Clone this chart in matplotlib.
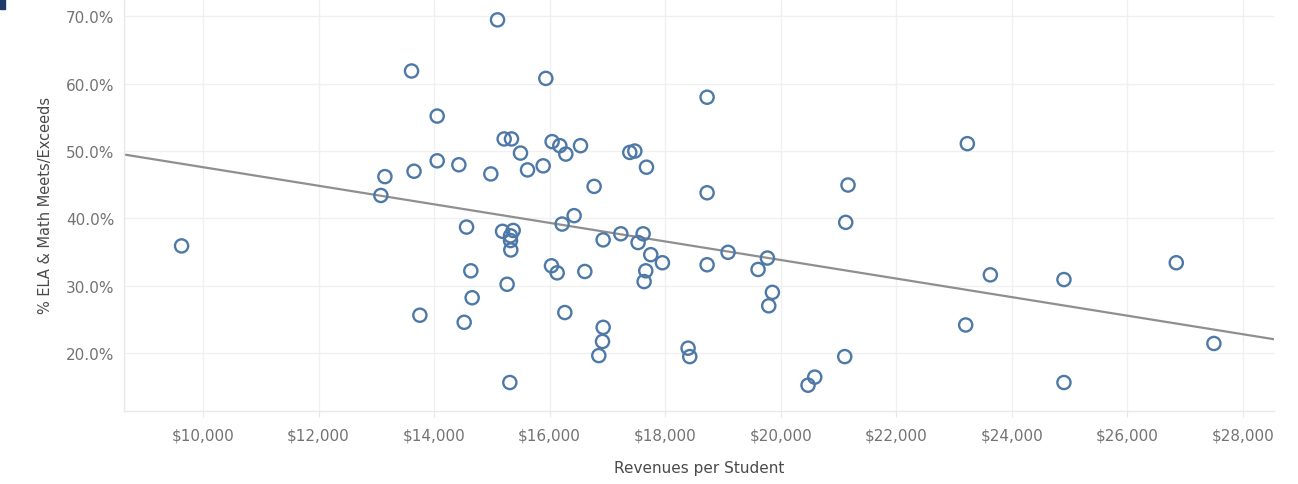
import matplotlib
matplotlib.use("Agg")
import matplotlib.pyplot as plt
import matplotlib.patches as mpatches
from matplotlib.ticker import FuncFormatter, FixedLocator
import numpy as np

# Revenues per student (USD) and share of students meeting/exceeding ELA & Math standards (%)
revenue_per_student = [
    9630, 13149, 13079, 13610, 15098, 15934, 14054, 15213, 15340, 15496,
    16043, 16176, 16280, 16534, 17387, 17474, 17676, 18725, 18725, 16770,
    15888, 16424, 16216, 16926, 17232, 17618, 17531, 17750, 17952, 18725,
    19088, 16609, 16130, 16032, 17664, 17635, 16263, 16926, 16915, 16851,
    18396, 18425, 14562, 15185, 15369, 15323, 15323, 15328, 14636, 15264,
    14659, 13754, 14521, 15311, 13653, 14054, 14429, 14982, 15617, 19769,
    19607, 19855, 19792, 21164, 21124, 21107, 20588, 20472, 23229, 23627,
    23200, 24901, 24901, 26845, 27496,
]
pct_meets_exceeds = [
    35.9, 46.2, 43.4, 61.9, 69.5, 60.8, 55.2, 51.8, 51.8, 49.7,
    51.4, 50.8, 49.55, 50.8, 49.8, 50.0, 47.6, 58.0, 43.8, 44.75,
    47.8, 40.4, 39.15, 36.8, 37.7, 37.7, 36.4, 34.6, 33.4, 33.1,
    34.95, 32.1, 31.9, 32.95, 32.2, 30.6, 26.0, 23.8, 21.7, 19.6,
    20.7, 19.45, 38.7, 38.07, 38.2, 37.4, 36.7, 35.3, 32.2, 30.2,
    28.2, 25.6, 24.55, 15.6, 47.0, 48.55, 47.96, 46.6, 47.2, 34.1,
    32.4, 29.0, 27.0, 44.95, 39.4, 19.45, 16.4, 15.2, 51.1, 31.6,
    24.15, 30.9, 15.6, 33.4, 21.4,
]

x_ticks = [10000, 12000, 14000, 16000, 18000, 20000, 22000, 24000, 26000, 28000]
y_ticks = [20, 30, 40, 50, 60, 70]

x_label = "Revenues per Student"
y_label = "% ELA & Math Meets/Exceeds"

POINT_COLOR = "#4e79a7"
TREND_COLOR = "#8f8f8f"
GRID_COLOR = "#f0f0f0"
TICK_COLOR = "#737373"

fig = plt.figure(figsize=(12.98, 4.85), dpi=100)
ax = fig.add_axes([0.0955, 0.151, 0.886, 0.849])

x = np.array(revenue_per_student, dtype=float)
y = np.array(pct_meets_exceeds, dtype=float)

xlim = (8633, 28536)
ylim = (11.4, 72.6)
ax.set_xlim(*xlim)
ax.set_ylim(*ylim)

# Linear trend line across the full axis width
slope, intercept = np.polyfit(x, y, 1)
tx = np.array(xlim)
ax.plot(tx, slope * tx + intercept, color=TREND_COLOR, lw=1.6, zorder=2)

ax.scatter(x, y, s=90, facecolors="none", edgecolors=POINT_COLOR,
           linewidths=1.7, zorder=3)

ax.xaxis.set_major_locator(FixedLocator(x_ticks))
ax.yaxis.set_major_locator(FixedLocator(y_ticks))
ax.xaxis.set_major_formatter(FuncFormatter(lambda v, p: f"${v:,.0f}"))
ax.yaxis.set_major_formatter(FuncFormatter(lambda v, p: f"{v:.1f}%"))

ax.grid(True, color=GRID_COLOR, lw=1.0, zorder=0)
ax.set_axisbelow(True)
for side in ("top", "right"):
    ax.spines[side].set_visible(False)
for side in ("left", "bottom"):
    ax.spines[side].set_color("#e8e8e8")
    ax.spines[side].set_linewidth(1.0)

ax.tick_params(axis="x", length=4, color="#e8e8e8", pad=8,
               labelsize=11, labelcolor=TICK_COLOR)
ax.tick_params(axis="y", length=0, pad=7,
               labelsize=11, labelcolor=TICK_COLOR)

ax.set_xlabel(x_label, fontsize=11, color="#4a4a4a", labelpad=13)
ax.set_ylabel(y_label, fontsize=10.5, color="#4a4a4a", labelpad=9)

# small corner marker at the top-left edge of the canvas
fig.patches.append(mpatches.Rectangle((0, 0.98), 0.004, 0.02,
                                      transform=fig.transFigure,
                                      color="#1f3a68", zorder=10))

fig.savefig("out.png", dpi=100)
